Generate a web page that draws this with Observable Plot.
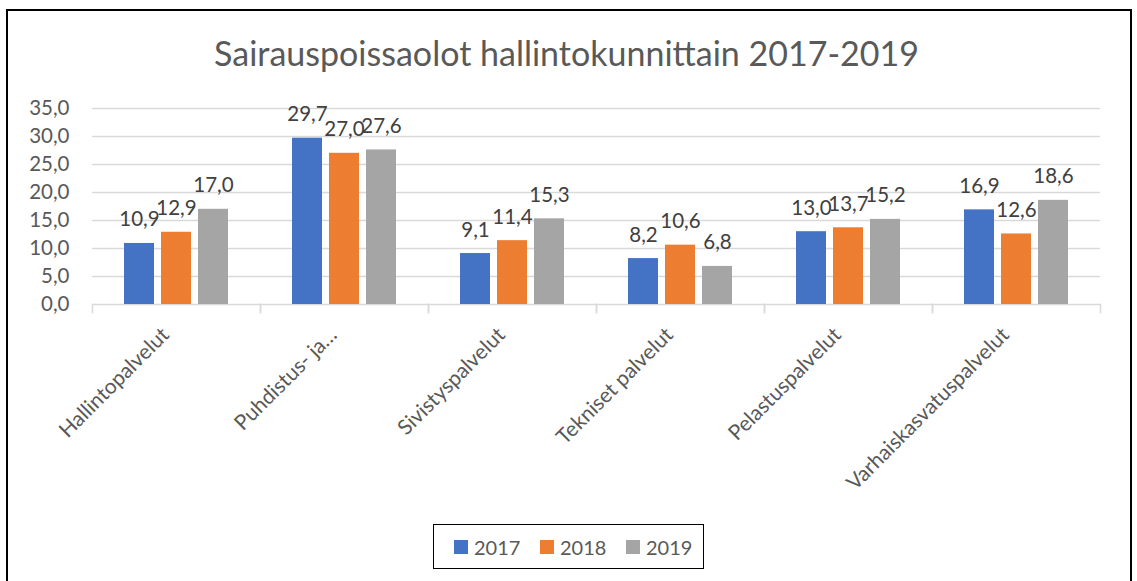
<!DOCTYPE html>
<html>
<head>
<meta charset="utf-8">
<script src="https://cdn.jsdelivr.net/npm/d3@7"></script>
<script src="https://cdn.jsdelivr.net/npm/@observablehq/plot@0.6"></script>
<style>
  html, body { margin: 0; padding: 0; background: #fff; overflow: hidden; }
  #wrap { position: relative; width: 1137px; height: 581px; overflow: hidden; font-family: Lato, "Open Sans", sans-serif; }
  #border { position: absolute; left: 6px; top: 9px; width: 1122px; height: 600px; border: 2px solid #000; pointer-events: none; }
  #title { height: 90px; box-sizing: border-box; padding-top: 36px; text-align: center; font-size: 34px; line-height: 34px; color: #595959; padding-right: 4px; }
  #chart svg { display: block; }
  #legend { position: absolute; left: 433px; top: 524px; width: 249px; height: 43px; border: 1.5px solid #000; display: flex; align-items: center; padding-left: 20px; box-sizing: content-box; }
  .item { display: flex; align-items: center; width: 86px; flex: none; font-size: 20px; color: #595959; }
  .sw { width: 14px; height: 14px; margin-right: 6px; }
</style>
</head>
<body>
<div id="wrap">
  <div id="title">Sairauspoissaolot hallintokunnittain 2017-2019</div>
  <div id="chart"></div>
  <div id="legend"></div>
  <div id="border"></div>
</div>
<script>
const categories = ["Hallintopalvelut", "Puhdistus- ja…", "Sivistyspalvelut", "Tekniset palvelut", "Pelastuspalvelut", "Varhaiskasvatuspalvelut"];
const years = ["2017", "2018", "2019"];
const v2017 = [10.9, 29.7, 9.1, 8.2, 13.0, 16.9];
const v2018 = [12.9, 27.0, 11.4, 10.6, 13.7, 12.6];
const v2019 = [17.0, 27.6, 15.3, 6.8, 15.2, 18.6];
const yTicks = [0, 5, 10, 15, 20, 25, 30, 35];
const colors = ["#4472C4", "#ED7D31", "#A5A5A5"];

const series = [v2017, v2018, v2019];
const data = categories.flatMap((c, i) => years.map((y, j) => ({cat: c, year: y, value: series[j][i]})));
const fmt = d => d.toFixed(1).replace(".", ",");

const grid = {stroke: "#d9d9d9", strokeWidth: 1.5};

const chart = Plot.plot({
  width: 1137,
  height: 425,
  marginTop: 18,
  marginLeft: 90,
  marginRight: 35,
  marginBottom: 211,
  style: {fontFamily: "Lato, 'Open Sans', sans-serif", fontSize: "20px", color: "#595959", background: "transparent", overflow: "visible"},
  fx: {domain: categories, padding: 0, axis: null},
  x: {domain: years, paddingInner: 0.2, paddingOuter: 0.85, axis: null},
  y: {domain: [0, 35], axis: null},
  color: {domain: years, range: colors},
  marks: [
    Plot.ruleY(yTicks, grid),
    Plot.frame({anchor: "left", ...grid, insetTop: 196, insetBottom: -8}),
    Plot.frame({anchor: "right", ...grid, insetTop: 196, insetBottom: -8}),
    Plot.barY(data, {fx: "cat", x: "year", y: "value", fill: "year"}),
    Plot.text(data, {fx: "cat", x: "year", y: "value", text: d => fmt(d.value), dy: -17, lineAnchor: "bottom", fill: "#404040", fontSize: 20.5}),
    Plot.axisY({ticks: yTicks, tickFormat: fmt, tickSize: 0, tickPadding: 23, fontSize: 20.5, label: null}),
    Plot.axisFx({anchor: "bottom", tickRotate: -45, tickSize: 0, tickPadding: 27, dx: -11, fontSize: 21, label: null})
  ]
});
document.getElementById("chart").appendChild(chart);

const legend = document.getElementById("legend");
years.forEach((y, i) => {
  const item = document.createElement("div");
  item.className = "item";
  const sw = document.createElement("div");
  sw.className = "sw";
  sw.style.background = colors[i];
  const t = document.createElement("span");
  t.textContent = y;
  item.appendChild(sw);
  item.appendChild(t);
  legend.appendChild(item);
});
</script>
</body>
</html>
